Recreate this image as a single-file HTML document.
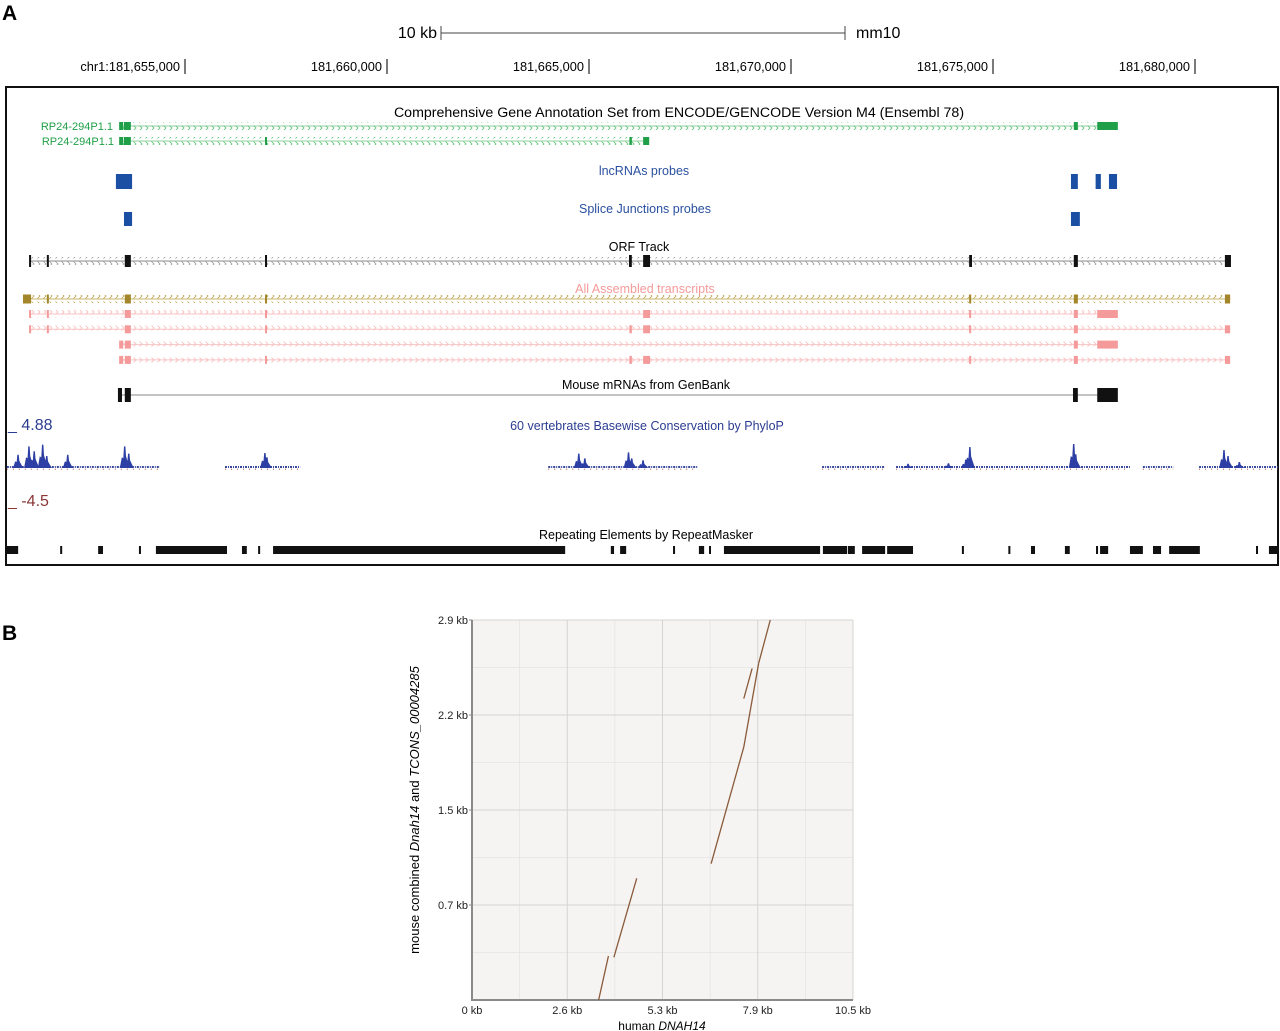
<!DOCTYPE html>
<html><head><meta charset="utf-8"><style>
body{margin:0;background:#fff;}
svg{display:block;font-family:"Liberation Sans",sans-serif;}
</style></head><body>
<svg id="fig" width="1280" height="1031" viewBox="0 0 1280 1031" xmlns="http://www.w3.org/2000/svg">
<defs>
<pattern id="chG" width="6" height="8" patternUnits="userSpaceOnUse" x="0" y="-4"><polyline points="1.5,1.5 4,4 1.5,6.5" fill="none" stroke="#5cbf72" stroke-width="0.8"/></pattern>
<pattern id="chK" width="6" height="8" patternUnits="userSpaceOnUse" x="0" y="-4"><polyline points="1.5,1.5 4,4 1.5,6.5" fill="none" stroke="#999" stroke-width="0.8"/></pattern>
<pattern id="chO" width="6" height="8" patternUnits="userSpaceOnUse" x="0" y="-4"><polyline points="1.5,1.5 4,4 1.5,6.5" fill="none" stroke="#b8a048" stroke-width="0.8"/></pattern>
<pattern id="chP" width="6" height="8" patternUnits="userSpaceOnUse" x="0" y="-4"><polyline points="1.5,1.5 4,4 1.5,6.5" fill="none" stroke="#f7baba" stroke-width="0.8"/></pattern>
</defs>
<text x="2" y="20" font-size="21" font-weight="bold">A</text>
<g>
<text x="437" y="38" font-size="16" text-anchor="end">10 kb</text>
<line x1="441" y1="33" x2="845" y2="33" stroke="#444" stroke-width="1"/>
<line x1="441" y1="26" x2="441" y2="40" stroke="#444"/><line x1="845" y1="26" x2="845" y2="40" stroke="#444"/>
<text x="856" y="38" font-size="16">mm10</text>
</g>
<g id="ruler"></g>
<rect x="6" y="87" width="1272" height="478" fill="none" stroke="#111" stroke-width="2"/>
<g id="tracks"></g>
<g font-size="13" text-anchor="middle">
<text x="679" y="117" font-size="14.2">Comprehensive Gene Annotation Set from ENCODE/GENCODE Version M4 (Ensembl 78)</text>
<text x="644" y="175" fill="#2a50a0" font-size="12.5">lncRNAs probes</text>
<text x="645" y="213" fill="#2a50a0" font-size="12.5">Splice Junctions probes</text>
<text x="639" y="251" font-size="12.5">ORF Track</text>
<text x="645" y="293" fill="#f59a9a" font-size="12.5">All Assembled transcripts</text>
<text x="646" y="389" font-size="12.5">Mouse mRNAs from GenBank</text>
<text x="647" y="430" fill="#2b3d92" font-size="12.5">60 vertebrates Basewise Conservation by PhyloP</text>
<text x="646" y="539" font-size="12.5">Repeating Elements by RepeatMasker</text>
</g>
<g font-size="11" fill="#1fa048" text-anchor="end">
<text x="113" y="130">RP24-294P1.1</text><text x="114" y="145">RP24-294P1.1</text>
</g>
<text x="8" y="430" font-size="16" fill="#2b3d92">_ 4.88</text>
<text x="8" y="506" font-size="16" fill="#8b3535">_ -4.5</text>

<text x="2" y="640" font-size="21" font-weight="bold">B</text>
<g id="dot"></g>
</svg>
<script>
// ---------- genome browser data (positions in kb offset from chr1:181,655,000) ----------
const rulerLabels = ["chr1:181,655,000","181,660,000","181,665,000","181,670,000","181,675,000","181,680,000"];
const rulerKb = [0,5,10,15,20,25];
const gene1Span = [-1.63,23.09];
const gene1Exons = [[-1.63,-1.53],[-1.51,-1.34],[22.0,22.1],[22.58,23.09]];
const gene2Span = [-1.63,11.49];
const gene2Exons = [[-1.63,-1.53],[-1.51,-1.34],[1.98,2.03],[11.0,11.06],[11.34,11.49]];
const lncProbes = [[-1.71,-1.31],[21.93,22.1],[22.54,22.67],[22.87,23.07]];
const spliceProbes = [[-1.51,-1.31],[21.93,22.15]];
const orfSpan = [-3.86,25.89];
const orfExons = [[-3.86,-3.81],[-3.42,-3.37],[-1.49,-1.34],[1.98,2.03],[10.99,11.06],[11.34,11.51],[19.41,19.48],[22.0,22.1],[25.74,25.89]];
const olSpan = [-4.01,25.87];
const olExons = [[-4.01,-3.81],[-3.42,-3.37],[-1.49,-1.34],[1.98,2.03],[19.41,19.46],[22.0,22.1],[25.74,25.87]];
const pinkRows = [
 {span:[-3.86,23.09], exons:[[-3.86,-3.81],[-3.42,-3.37],[-1.49,-1.34],[1.98,2.03],[11.34,11.51],[19.41,19.46],[22.0,22.1],[22.58,23.09]]},
 {span:[-3.86,25.87], exons:[[-3.86,-3.81],[-3.42,-3.37],[-1.49,-1.34],[1.98,2.03],[11.0,11.06],[11.34,11.51],[19.41,19.46],[22.0,22.1],[25.74,25.87]]},
 {span:[-1.63,23.09], exons:[[-1.63,-1.53],[-1.49,-1.34],[22.0,22.1],[22.58,23.09]]},
 {span:[-1.63,25.87], exons:[[-1.63,-1.53],[-1.49,-1.34],[1.98,2.03],[11.0,11.06],[11.34,11.51],[19.41,19.46],[22.0,22.1],[25.74,25.87]]}
];
const mrnaSpan = [-1.63,23.09];
const mrnaExons = [[-1.66,-1.56],[-1.49,-1.34],[21.98,22.1],[22.58,23.09]];
const consRegions = [[-4.41,-0.62],[0.99,2.85],[8.99,12.7],[15.77,17.33],[17.6,23.39],[23.71,24.46],[25.1,27.05]];
const consPeakKb = [-4.13,-3.86,-3.73,-3.52,-3.42,-1.49,-1.39,1.98,2.03,9.75,9.9,10.98,11.06,11.34,19.33,19.43,22.0,22.05,25.72,25.82,26.1,18.9,17.9,-2.9];
const consPeakVal = [2.2,3.6,2.8,3.9,2.0,3.6,2.4,2.5,1.8,2.4,1.6,2.6,1.6,1.3,1.4,3.5,4.0,2.3,3.0,2.0,1.0,0.8,0.7,2.2];
const repeats = [[-4.43,-4.13],[-3.09,-3.04],[-2.15,-2.03],[-1.14,-1.09],[-0.72,1.04],[1.41,1.53],[1.81,1.86],[2.18,9.41],[10.54,10.62],[10.77,10.92],[12.08,12.13],[12.72,12.85],[12.97,13.02],[13.34,15.72],[15.79,16.39],[16.41,16.58],[16.76,17.33],[17.38,18.02],[19.23,19.28],[20.38,20.43],[20.94,21.04],[21.78,21.9],[22.55,22.6],[22.65,22.85],[23.39,23.71],[23.96,24.16],[24.36,25.12],[26.51,26.56],[26.83,27.03]];

const NS='http://www.w3.org/2000/svg';
function mk(parent,tag,attrs){const e=document.createElementNS(NS,tag);for(const k in attrs)e.setAttribute(k,attrs[k]);parent.appendChild(e);return e;}
const gx = kb => 185 + kb*40.4;
const ruler=document.getElementById('ruler');
rulerKb.forEach((k,i)=>{
  const t=mk(ruler,'text',{x:gx(k)-5,y:71,'font-size':12.8,'text-anchor':'end'});t.textContent=rulerLabels[i];
  
  
  mk(ruler,'line',{x1:gx(k),y1:59,x2:gx(k),y2:74,stroke:'#222','stroke-width':1.2});
});
const T=document.getElementById('tracks');
function gene(name,span,exons,y,color,pat,h,lineColor){
  const g=mk(T,'g',{});
  
  
  mk(g,'line',{x1:gx(span[0]),y1:y,x2:gx(span[1]),y2:y,stroke:lineColor,'stroke-width':1});
  if(pat) mk(g,'rect',{x:gx(span[0]),y:y-4,width:gx(span[1])-gx(span[0]),height:8,fill:'url(#'+pat+')'});
  exons.forEach(e=>{const r=mk(g,'rect',{x:gx(e[0]),y:y-h/2,width:Math.max(2,gx(e[1])-gx(e[0])),height:h,fill:color});
    
    });
}
gene('gencode-transcript-1',gene1Span,gene1Exons,126,'#1fa048','chG',8,'#8fd09f');
gene('gencode-transcript-2',gene2Span,gene2Exons,141,'#1fa048','chG',8,'#8fd09f');
function blocks(name,arr,y,h,color){
  const g=mk(T,'g',{});
  
  
  arr.forEach(e=>mk(g,'rect',{x:gx(e[0]),y:y,width:Math.max(2,gx(e[1])-gx(e[0])),height:h,fill:color}));
}
blocks('lncrna-probes',lncProbes,174,15,'#1b4fa3');
blocks('splice-junction-probes',spliceProbes,212,14,'#1b4fa3');
gene('orf-track',orfSpan,orfExons,261,'#111','chK',12,'#888');
gene('assembled-transcript-olive',olSpan,olExons,299,'#a3862a','chO',9,'#c9b46a');
pinkRows.forEach((r,i)=>gene('assembled-transcript-'+(i+1),r.span,r.exons,314+i*15.3,'#f49a9a','chP',8,'#f8c4c4'));
gene('mouse-mrna',mrnaSpan,mrnaExons,395,'#111',null,14,'#888');
// conservation
const cg=mk(T,'g',{});


const base=468, vs=6;
consRegions.forEach(r=>{
  mk(cg,'line',{x1:gx(r[0]),y1:base-1,x2:gx(r[1]),y2:base-1,stroke:'#3a48a0','stroke-width':2,'stroke-dasharray':'2 1 1 1'});
  mk(cg,'line',{x1:gx(r[0]),y1:base+1.2,x2:gx(r[1]),y2:base+1.2,stroke:'#9a3a3a','stroke-width':0.8,'stroke-dasharray':'1 5'});
});
consPeakKb.forEach((k,i)=>{
  const h=consPeakVal[i]*vs;
  const r=mk(cg,'path',{d:`M${gx(k)-5},${base} L${gx(k)-3},${base-h*0.5} L${gx(k)-1.5},${base-h*0.45} L${gx(k)-0.8},${base-h} L${gx(k)+0.6},${base-h} L${gx(k)+1.2},${base-h*0.55} L${gx(k)+2.5},${base-h*0.35} L${gx(k)+5},${base} Z`,fill:'#2d3fa5'});
  
  
});
blocks('repeat-elements',repeats,546,8,'#111');

// ---------- dot plot data ----------
const xTickVals = [0,2.625,5.25,7.875,10.5];
const xTickLabels = ["0 kb","2.6 kb","5.3 kb","7.9 kb","10.5 kb"];
const yTickVals = [0.725,1.45,2.175,2.9];
const yTickLabels = ["0.7 kb","1.5 kb","2.2 kb","2.9 kb"];
const segX1 = [3.49,3.91,6.59,7.49,7.90,7.49];
const segY1 = [0.0,0.326,1.04,1.93,2.57,2.30];
const segX2 = [3.76,4.54,7.49,7.90,8.22,7.72];
const segY2 = [0.336,0.929,1.93,2.57,2.90,2.53];
const D=document.getElementById('dot');
const L=472,R=853,TOP=620,B=1000;
const sx=v=>L+v/10.5*(R-L), sy=v=>B-v/2.9*(B-TOP);
mk(D,'rect',{x:L,y:TOP,width:R-L,height:B-TOP,fill:'#f5f4f2'});
for(let i=0;i<xTickVals.length-1;i++){const m=(xTickVals[i]+xTickVals[i+1])/2;mk(D,'line',{x1:sx(m),y1:TOP,x2:sx(m),y2:B,stroke:'#e6e4e2','stroke-width':0.8});}
const yAll=[0].concat(yTickVals);
for(let i=0;i<yAll.length-1;i++){const m=(yAll[i]+yAll[i+1])/2;mk(D,'line',{x1:L,y1:sy(m),x2:R,y2:sy(m),stroke:'#e6e4e2','stroke-width':0.8});}
xTickVals.forEach((v,i)=>{
  if(v>0) mk(D,'line',{x1:sx(v),y1:TOP,x2:sx(v),y2:B,stroke:'#d6d4d2','stroke-width':1});
  const t=mk(D,'text',{x:sx(v),y:B+14,'font-size':11,'text-anchor':'middle',fill:'#222'});t.textContent=xTickLabels[i];
  
  
});
yTickVals.forEach((v,i)=>{
  mk(D,'line',{x1:L,y1:sy(v),x2:R,y2:sy(v),stroke:'#d6d4d2','stroke-width':1});
  mk(D,'line',{x1:L-3,y1:sy(v),x2:L,y2:sy(v),stroke:'#888'});
  const t=mk(D,'text',{x:L-4,y:sy(v)+4,'font-size':11,'text-anchor':'end',fill:'#222'});t.textContent=yTickLabels[i];
  
  
});
mk(D,'line',{x1:L,y1:TOP,x2:L,y2:B+1,stroke:'#8a8a8a','stroke-width':2});
mk(D,'line',{x1:L-1,y1:B,x2:R,y2:B,stroke:'#8a8a8a','stroke-width':2});
segX1.forEach((x,i)=>{
  const s=mk(D,'line',{x1:sx(x),y1:sy(segY1[i]),x2:sx(segX2[i]),y2:sy(segY2[i]),stroke:'#8a5a3a','stroke-width':1.3});
  
  
});
const xt=mk(D,'text',{x:662,y:1030,'font-size':12,'text-anchor':'middle'});


xt.innerHTML='human <tspan font-style="italic">DNAH14</tspan>';
const yt=mk(D,'text',{x:0,y:0,'font-size':13,'text-anchor':'middle',transform:'translate(419,810) rotate(-90)'});


yt.innerHTML='mouse combined <tspan font-style="italic">Dnah14</tspan> and <tspan font-style="italic">TCONS_00004285</tspan>';
</script>
</body></html>
